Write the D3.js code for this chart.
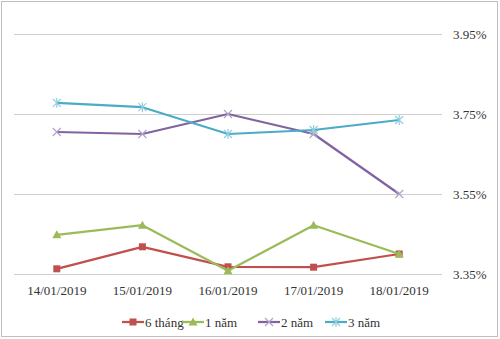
<!DOCTYPE html>
<html><head><meta charset="utf-8">
<script src="https://cdn.jsdelivr.net/npm/d3@7"></script>
<style>html,body{margin:0;padding:0;background:#fff;}svg{display:block;}</style>
</head><body>
<svg id="c" width="500" height="339"></svg>
<script>
const categories = ["14/01/2019","15/01/2019","16/01/2019","17/01/2019","18/01/2019"];
const seriesNames = ["6 tháng","1 năm","2 năm","3 năm"];
const s6thang = [3.363, 3.418, 3.368, 3.367, 3.40];
const s1nam   = [3.448, 3.472, 3.358, 3.472, 3.40];
const s2nam   = [3.705, 3.70, 3.75, 3.70, 3.55];
const s3nam   = [3.778, 3.767, 3.70, 3.71, 3.735];
const yTicks = [3.35, 3.55, 3.75, 3.95];

const series = [
  {name: seriesNames[0], values: s6thang, color: "#C0504D", marker: "square"},
  {name: seriesNames[1], values: s1nam,   color: "#9BBB59", marker: "triangle"},
  {name: seriesNames[2], values: s2nam,   color: "#8064A2", marker: "x"},
  {name: seriesNames[3], values: s3nam,   color: "#4BACC6", marker: "star"}
];

const svg = d3.select("#c");
const font = "'Liberation Serif','Times New Roman',serif";

svg.append("rect").attr("x",1.5).attr("y",1.5).attr("width",496).attr("height",335)
  .attr("fill","#fff").attr("stroke","#BFBFBF").attr("stroke-width",1);

const x = d3.scaleBand().domain(categories).range([14, 442]);
const y = d3.scaleLinear().domain([3.35, 3.95]).range([274, 34]);

svg.append("g").selectAll("line").data(yTicks).join("line")
  .attr("x1",14).attr("x2",442)
  .attr("y1",d=>Math.round(y(d))+0.5).attr("y2",d=>Math.round(y(d))+0.5)
  .attr("stroke","#D0D0D0").attr("stroke-width",1);

const yAxis = d3.axisRight(y).tickValues(yTicks).tickSize(0).tickPadding(0)
  .tickFormat(d=>d3.format(".2f")(d)+"%");
const gy = svg.append("g").attr("transform","translate(453,0)").call(yAxis);
gy.select(".domain").remove();
gy.selectAll("text").attr("font-family",font).attr("font-size",13).attr("fill","#333");

const xAxis = d3.axisBottom(x).tickSize(0).tickPadding(0);
const gx = svg.append("g").attr("transform","translate(0,286)").call(xAxis);
gx.select(".domain").remove();
gx.selectAll("text").attr("font-family",font).attr("font-size",13).attr("fill","#333");

const cx = d => x(d) + x.bandwidth()/2;

function drawMarker(g, type, color){
  if(type==="square"){
    g.append("rect").attr("x",-3.5).attr("y",-3.5).attr("width",7).attr("height",7).attr("fill",color);
  } else if(type==="triangle"){
    g.append("path").attr("d","M0,-4.5L4.5,3.5L-4.5,3.5Z").attr("fill",color);
  } else if(type==="x"){
    g.append("path").attr("d","M-4,-4L4,4M-4,4L4,-4").attr("stroke","#B3A2C7").attr("stroke-width",1.2);
  } else {
    g.append("path").attr("d","M-4,-4L4,4M-4,4L4,-4M0,-5L0,5").attr("stroke","#93CDDD").attr("stroke-width",1.2);
  }
}

const line = d3.line().x((d,i)=>cx(categories[i])).y(d=>y(d));

series.forEach(s=>{
  svg.append("path").datum(s.values).attr("d",line)
    .attr("fill","none").attr("stroke",s.color).attr("stroke-width",2.25).attr("stroke-linejoin","round");
  s.values.forEach((v,i)=>{
    const g = svg.append("g").attr("transform",`translate(${cx(categories[i])},${y(v)})`);
    drawMarker(g, s.marker, s.color);
  });
});

const legendX = [122, 182, 258, 325];
const lg = svg.append("g");
series.forEach((s,i)=>{
  const g = lg.append("g").attr("transform",`translate(${legendX[i]},322)`);
  g.append("line").attr("x1",0).attr("x2",22).attr("y1",0).attr("y2",0)
    .attr("stroke",s.color).attr("stroke-width",2.25);
  const m = g.append("g").attr("transform","translate(11,0)");
  drawMarker(m, s.marker, s.color);
  g.append("text").attr("x",23).attr("y",0).attr("dy","0.35em")
    .attr("font-family",font).attr("font-size",13).attr("fill","#333").text(s.name);
});
</script>
</body></html>
